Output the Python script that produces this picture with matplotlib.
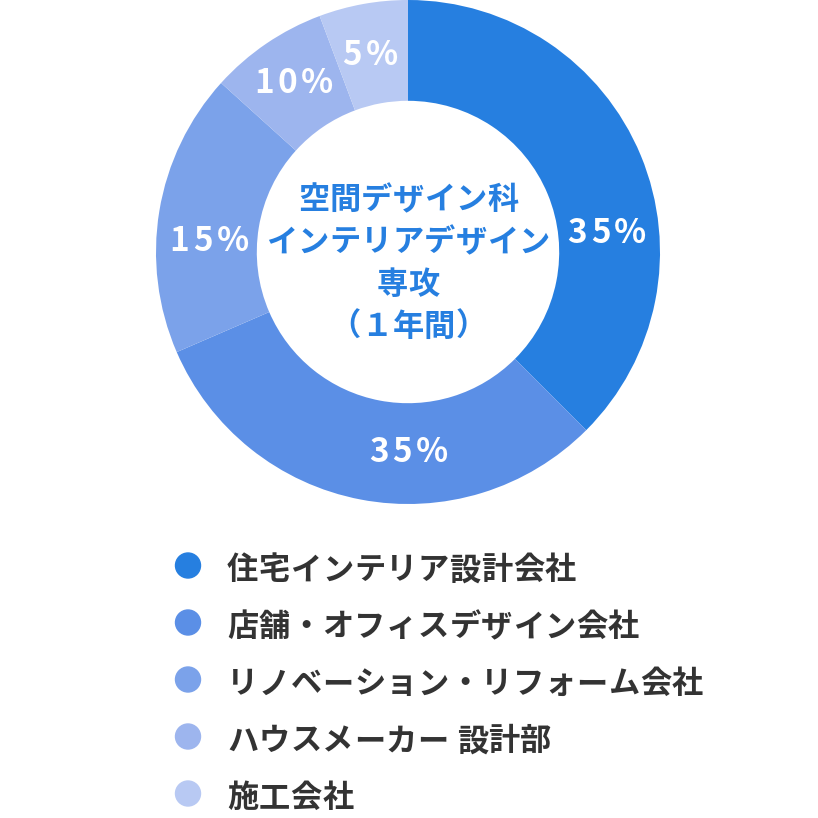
import matplotlib
matplotlib.use("Agg")
import matplotlib.pyplot as plt
from matplotlib.patches import Circle
from matplotlib.font_manager import FontProperties, findfont
from matplotlib.ft2font import FT2Font
import numpy as np

plt.rcParams['font.family'] = ['Noto Sans CJK JP', 'DejaVu Sans']

# wedge shares as drawn in the picture, and the labels printed on them
categories = ["住宅インテリア設計会社", "店舗・オフィスデザイン会社", "リノベーション・リフォーム会社",
              "ハウスメーカー 設計部", "施工会社"]
shares = [37.5, 31.0, 18.2, 7.6, 5.7]
pct_labels = ["35%", "35%", "15%", "10%", "5%"]
center_lines = ["空間デザイン科", "インテリアデザイン", "専攻", "（１年間）"]

colors = ["#267fe0", "#5b8fe6", "#7ba2ea", "#9db5ee", "#b8c9f3"]
# label placement (angle in degrees, radius as fraction of outer radius)
label_pos = [(6.1, 0.788), (-90.3, 0.786), (176.1, 0.797), (124.0, 0.82), (101.1, 0.807)]

W = H = 818
fig = plt.figure(figsize=(W / 100, H / 100), dpi=100)
cx, cy, R = 408, 252, 252
ax = fig.add_axes([(cx - R) / W, 1 - (cy + R) / H, 2 * R / W, 2 * R / H])
ax.pie(shares, colors=colors, startangle=90, counterclock=False,
       wedgeprops=dict(width=0.4, linewidth=0), radius=1.0)
ax.set_xlim(-1, 1)
ax.set_ylim(-1, 1)
ax.set_aspect('equal')
ax.axis('off')

_font_path = findfont(FontProperties(family='Noto Sans CJK JP', weight='bold'))


def advances(s, size):
    f = FT2Font(_font_path)
    f.set_size(size, 100)
    out = []
    for c in s:
        g = f.load_char(ord(c))
        out.append(g.linearHoriAdvance / 65536.0)
    return out


def tracked(s, x, y_center, size, track, color, align="center", ink_mid=0.38):
    """Draw text char by char in pixel coords with extra letter spacing."""
    adv = advances(s, size)
    total = sum(adv) + track * (len(s) - 1)
    pen = x - total / 2 if align == "center" else x
    em = size * 100 / 72.0
    base = y_center + ink_mid * em
    for c, a in zip(s, adv):
        fig.text(pen / W, 1 - base / H, c, color=color, fontsize=size,
                 fontweight="bold", ha="left", va="baseline")
        pen += a + track


# percentage labels
for lab, (ang, r) in zip(pct_labels, label_pos):
    a = np.deg2rad(ang)
    px = cx + r * R * np.cos(a)
    py = cy - r * R * np.sin(a)
    tracked(lab, px + 1.5, py, 24, 3.8, "white", ink_mid=0.366)

# center title
for line, yc in zip(center_lines, [197, 239.5, 282, 324]):
    tracked(line, 408, yc, 22.5, 0.3, "#267fe0")

# legend
rows_y = [567.5, 624.5, 681.5, 738.5, 795.5]
for cat, col, y in zip(categories, colors, rows_y):
    fig.patches.append(Circle((188 / W, 1 - (y - 2) / H), 12.5 / W,
                              transform=fig.transFigure, color=col))
    tracked(cat, 227, y, 22.5, 0.5, "#333333", align="left")

fig.savefig("out.png", dpi=100, facecolor="white")
